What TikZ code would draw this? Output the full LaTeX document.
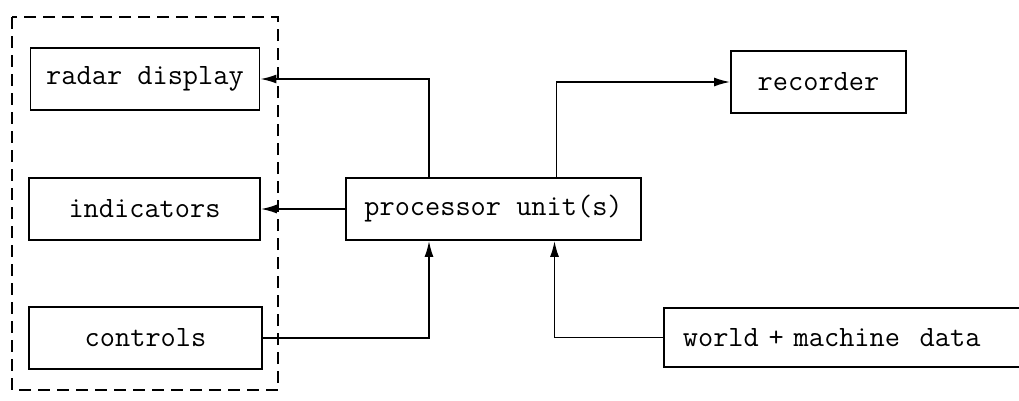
\documentclass[tikz,border=0pt]{standalone}
\usetikzlibrary{arrows.meta}
\begin{document}
\begin{tikzpicture}[x=1pt,y=-1pt,
  blk/.style={draw,line width=1.8pt,rectangle,inner sep=0pt,font=\ttfamily\fontsize{29.5}{30}\selectfont},
  arr/.style={line width=1.7pt,-{Latex[length=16pt,width=9pt]}}]
\useasboundingbox (0,0) rectangle (1019,400);
\clip (0,0) rectangle (1019,400);
\node[blk,minimum width=229pt,minimum height=62pt] (radar) at (145,79) {radar display};
\node[blk,minimum width=231pt,minimum height=62pt] (ind) at (144.5,209) {indicators};
\node[blk,minimum width=233pt,minimum height=62pt] (ctrl) at (145.5,338) {controls};
\node[blk,minimum width=295pt,minimum height=62pt] (proc) at (493.5,209) {processor unit(s)};
\node[blk,minimum width=175pt,minimum height=62pt] (rec) at (818.5,82) {recorder};
\node[blk,anchor=west,text width=370pt,align=left,inner xsep=19pt,minimum height=59pt] (world) at (663,337.5) {world + machine\ \ data};
\draw[line width=1.7pt,dash pattern=on 12pt off 7pt] (12,17) rectangle (278,390);
\draw[arr] ([xshift=-64.5pt]proc.north) |- (radar.east);
\draw[arr] (proc.west) -- (ind.east);
\draw[arr] (ctrl.east) -| ([xshift=-64.5pt]proc.south);
\draw[arr] ([xshift=63pt]proc.north) |- (rec.west);
\draw[arr] (world.west) -| ([xshift=61pt]proc.south);
\end{tikzpicture}
\end{document}
